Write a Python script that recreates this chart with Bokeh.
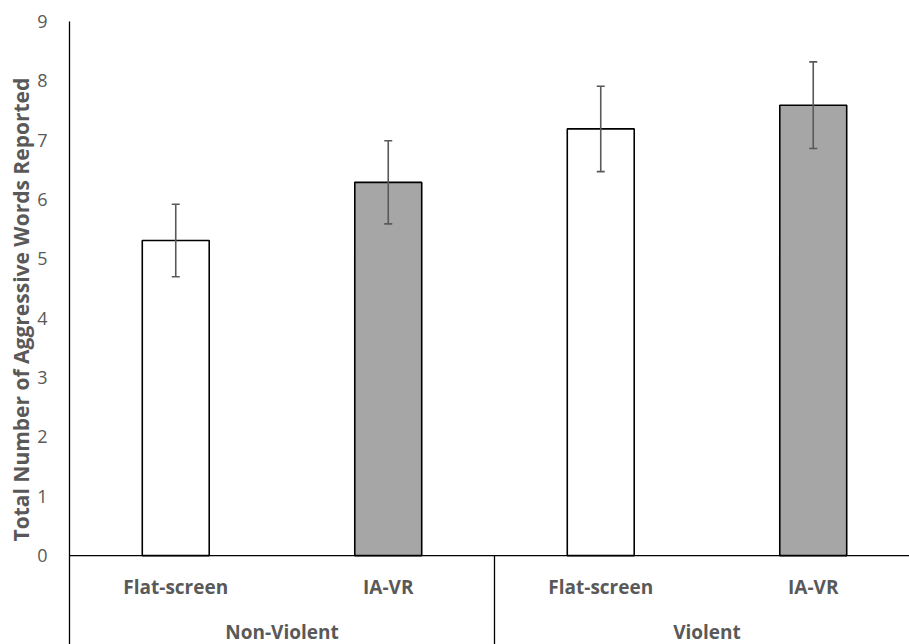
from bokeh.plotting import figure
from bokeh.models import ColumnDataSource, Whisker, FixedTicker, Title, Range1d
from bokeh.core.properties import value
from bokeh.embed import file_html
from bokeh.resources import INLINE

# ---- data ----
groups = ["Non-Violent", "Violent"]
conditions = ["Flat-screen", "IA-VR", "Flat-screen", "IA-VR"]
means = [5.31, 6.29, 7.19, 7.59]
errors = [0.61, 0.70, 0.72, 0.73]
bar_colors = ["#ffffff", "#a6a6a6", "#ffffff", "#a6a6a6"]
y_ticks = [0, 1, 2, 3, 4, 5, 6, 7, 8, 9]
y_title = "Total Number of Aggressive Words Reported"

FONT = "Open Sans"
GRAY = "#595959"

n = len(conditions)
xs = [i + 0.5 for i in range(n)]
src = ColumnDataSource(dict(
    x=xs, top=means, color=bar_colors,
    upper=[m + e for m, e in zip(means, errors)],
    lower=[m - e for m, e in zip(means, errors)],
    cond=conditions,
))

p = figure(width=909, height=644, output_backend="svg", toolbar_location=None,
           x_range=Range1d(0, 3.953), y_range=Range1d(-1.497, 9.0),
           min_border_left=69, min_border_right=0, min_border_top=21, min_border_bottom=0)
p.outline_line_color = None
p.grid.grid_line_color = None
p.xaxis.visible = False

ya = p.yaxis[0]
ya.ticker = FixedTicker(ticks=y_ticks)
ya.major_tick_line_color = None
ya.minor_tick_line_color = None
ya.major_tick_out = 0
ya.major_tick_in = 0
ya.major_label_standoff = 22
ya.major_label_text_font = FONT
ya.major_label_text_font_size = "18px"
ya.major_label_text_color = GRAY
ya.axis_line_color = "#000000"
ya.axis_line_width = 1.3

p.vbar(x="x", top="top", bottom=0, width=0.315, source=src,
       fill_color="color", line_color="#000000", line_width=1.6)

w = Whisker(base="x", upper="upper", lower="lower", source=src,
            line_color=GRAY, line_width=1.6, level="overlay")
w.upper_head.size = 8
w.lower_head.size = 8
w.upper_head.line_color = GRAY
w.lower_head.line_color = GRAY
w.upper_head.line_width = 1.6
w.lower_head.line_width = 1.6
p.add_layout(w)

# baseline and category separators
p.segment(x0=[0], y0=[0], x1=[4], y1=[0], line_color="#000000", line_width=1.3)
per_group = n // len(groups)
seps = [per_group * k for k in range(1, len(groups) + 1)]
p.segment(x0=seps, y0=[0] * len(seps), x1=seps, y1=[-1.6] * len(seps),
          line_color="#000000", line_width=1.3)

# category labels
p.text(x="x", y=-0.533, text="cond", source=src, text_align="center",
       text_baseline="middle", text_font=value(FONT), text_font_style="bold",
       text_font_size="19px", text_color=GRAY)
gx = [per_group * k + per_group / 2 for k in range(len(groups))]
p.text(x=gx, y=[-1.29] * len(groups), text=groups, text_align="center",
       text_baseline="middle", text_font=value(FONT), text_font_style="bold",
       text_font_size="19px", text_color=GRAY)

# y-axis title as a left-side Title
p.add_layout(Title(text=y_title, align="left", offset=103, standoff=0,
                   text_font=FONT, text_font_style="bold", text_font_size="21px",
                   text_color=GRAY), "left")

open("out.html", "w").write(file_html(p, INLINE))
